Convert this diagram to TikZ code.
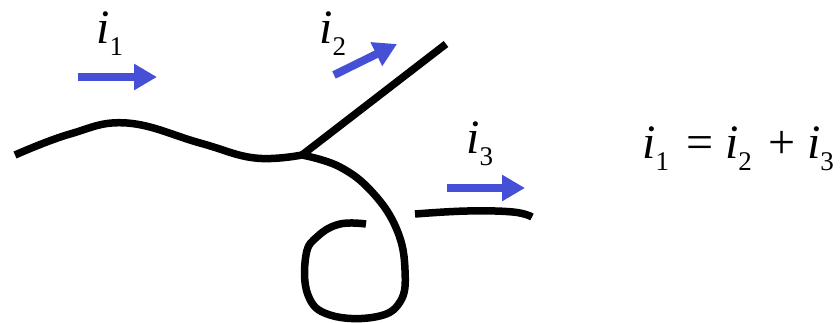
\documentclass[tikz,border=0pt]{standalone}
\usepackage{fontspec}
\setmainfont{Liberation Serif}
\usetikzlibrary{arrows.meta}
\definecolor{iblue}{RGB}{69,80,214}
\newcommand{\subsz}{\fontsize{27}{28}\selectfont}
\newcommand{\cur}[1]{\textit{i}\raisebox{-12pt}{\subsz #1}}
\tikzset{
  wire/.style={line width=7.5pt, line join=round},
  flow/.style={draw=iblue, line width=8pt, -{Triangle[length=23pt,width=25pt]}},
  lbl/.style={anchor=base west, inner sep=0pt, font=\fontsize{48}{50}\selectfont}
}
\begin{document}
\begin{tikzpicture}[x=1pt, y=-1pt]
  \useasboundingbox (0,0) rectangle (840,322);
  \coordinate (jn) at (302,155);
  % incoming wire
  \draw[wire] plot[smooth, tension=0.7] coordinates {(15,155) (70,134) (127,123)
    (200,143) (255,158) (jn)};
  % branch
  \draw[wire] (jn) -- (446,44);
  % loop
  \draw[wire] plot[smooth, tension=0.7] coordinates {(jn) (340,167) (373,193)
    (397,230) (405,270) (400,302) (375,317) (330,315)
    (308,295) (306,255) (318,236) (340,224) (366,224)};
  % outgoing wire
  \draw[wire] plot[smooth, tension=0.7] coordinates {(415,214) (467,211) (513,212) (532,217)};
  % currents
  \coordinate (a1) at (78,77);  \coordinate (b1) at (157,77);
  \coordinate (a2) at (334,75); \coordinate (b2) at (397,44);
  \coordinate (a3) at (447,188); \coordinate (b3) at (525,188);
  \draw[flow] (a1) -- (b1);
  \draw[flow] (a2) -- (b2);
  \draw[flow] (a3) -- (b3);
  \node[lbl] (l1) at (96,43) {\cur{1}};
  \node[lbl] (l2) at (319,43) {\cur{2}};
  \node[lbl] (l3) at (466,153) {\cur{3}};
  \node[lbl] (law) at (642,158) {\cur{1}\hspace{17pt}=\hspace{12pt}\cur{2}\hspace{17pt}+\hspace{11pt}\cur{3}};
\end{tikzpicture}
\end{document}
